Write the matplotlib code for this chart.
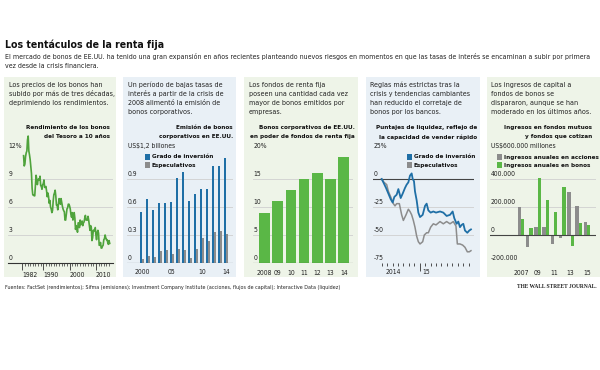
import numpy as np
import matplotlib
matplotlib.use('Agg')
import matplotlib.pyplot as plt
from matplotlib.patches import Rectangle

# ---- data ----
# 10-year Treasury yield, quarterly from mid-1982 (%)
yield_start = 1982.5
yield_10y = [11.5, 10.4, 10.6, 11.4, 11.8, 12.0, 13.2, 13.6, 12.0, 11.6, 11.1, 10.4,
             9.6, 8.0, 7.3, 7.3, 7.2, 7.2, 8.3, 9.4, 9.0, 8.4, 8.9, 9.0, 8.9, 9.3,
             8.3, 8.2, 7.9, 8.4, 8.5, 8.9, 8.1, 8.1, 8.2, 7.7, 7.1, 7.5, 7.1, 6.4,
             6.7, 6.0, 5.8, 5.4, 5.6, 6.6, 7.3, 7.5, 7.8, 7.2, 6.2, 6.2, 5.7, 6.3,
             6.9, 6.7, 6.3, 6.9, 6.5, 6.1, 5.8, 5.6, 5.5, 4.6, 4.6, 5.2, 5.8, 5.9,
             6.3, 6.3, 6.1, 5.8, 5.2, 4.9, 5.4, 4.6, 5.1, 5.4, 4.8, 3.6, 4.0, 3.8,
             3.3, 4.3, 4.3, 3.8, 4.6, 4.1, 4.2, 4.5, 4.0, 4.3, 4.4, 4.8, 5.1, 4.6,
             4.6, 4.6, 5.0, 4.6, 4.0, 3.5, 4.0, 3.8, 2.4, 2.7, 3.5, 3.4, 3.6, 3.8,
             3.0, 2.5, 3.3, 3.5, 3.2, 1.9, 1.9, 2.2, 1.6, 1.6, 1.8, 1.9, 2.5, 2.6,
             3.0, 2.7, 2.5, 2.5, 2.2, 2.0, 2.4, 2.1]

# corporate bond issuance (US$ trillions)
issue_years = list(range(2000, 2015))
issue_invest = [0.55, 0.69, 0.57, 0.64, 0.64, 0.65, 0.91, 0.98, 0.66, 0.74, 0.79, 0.79, 1.04, 1.04, 1.13]
issue_spec = [0.04, 0.08, 0.06, 0.13, 0.14, 0.10, 0.15, 0.14, 0.05, 0.15, 0.27, 0.24, 0.33, 0.34, 0.31]
issue_labels = ['2000', '05', '10', '14']

# share of US corporate bonds held by bond funds (%)
fund_years = list(range(2008, 2015))
fund_share = [9, 11, 13, 15, 16, 15, 19]
fund_labels = ['2008', '09', '10', '11', '12', '13', '14']

# liquidity scores (%), x = months since June 2014
liq_inv_x = [0.0, 0.31, 0.80, 1.23, 1.66, 2.02, 2.33, 2.76, 3.07, 3.50, 3.87, 4.29, 4.60, 4.91,
             5.21, 5.52, 5.71, 5.95, 6.13, 6.44, 6.75, 7.06, 7.55, 7.98, 8.28, 8.59, 9.02,
             9.51, 10.0, 10.74, 11.35, 11.96, 12.58, 13.07, 13.37, 13.80, 14.11, 14.42,
             14.72, 15.03, 15.34, 15.77, 16.13, 16.44]
liq_inv = [0, -3, -8, -13, -18, -21, -16, -14, -9, -17, -13, -8, -5, -3, 3, 5, 0, -2, -11,
           -19, -30, -34, -32, -24, -22, -28, -30, -29, -30, -29, -30, -33, -32, -29, -35,
           -40, -38, -43, -41, -40, -46, -48, -46, -45]
liq_spec_x = [0.0, 0.43, 0.92, 1.23, 1.66, 2.15, 2.45, 2.76, 3.25, 3.68, 3.99, 4.48, 4.91,
              5.21, 5.52, 5.83, 6.13, 6.44, 6.75, 7.06, 7.55, 7.85, 8.28, 8.59, 9.02, 9.51,
              10.0, 10.74, 11.35, 11.96, 12.58, 13.19, 13.68, 13.93, 14.42, 14.91, 15.34,
              15.77, 16.13, 16.44]
liq_spec = [0, -3, -5, -11, -16, -22, -24, -22, -22, -32, -37, -32, -27, -29, -32, -37, -43,
            -51, -56, -58, -56, -50, -48, -48, -43, -40, -41, -38, -40, -38, -40, -38, -42,
            -58, -58, -59, -61, -65, -65, -64]

# annual flows into mutual funds and ETFs (US$ millions)
flow_years = list(range(2007, 2016))
flow_stocks = [200000, -85000, 60000, 60000, -65000, -20000, 310000, 205000, 90000]
flow_bonds = [115000, 50000, 410000, 250000, 165000, 345000, -75000, 85000, 70000]
flow_labels = ['2007', '09', '11', '13', '15']

BLUE = '#1f6fa6'
GRAY = '#8c8c8c'
GREEN = '#5ab746'
LINE_GREEN = '#4fa33c'
GRID = '#cfcfcf'
TXT = '#222222'

W, H = 600, 370
plt.rcParams['font.family'] = ['DejaVu Sans']
plt.rcParams['font.stretch'] = 'condensed'
fig = plt.figure(figsize=(6, 3.7), dpi=100)

FS = 5.1      # body text
FK = 4.9      # tick labels
FT = 4.6      # chart titles / legend


def fx(px):
    return px / W


def fy(py):
    return 1 - py / H


def txt(x, y, s, size=FS, weight='normal', ha='left', color=TXT, family=None):
    kw = {}
    if family:
        kw['family'] = family
    fig.text(fx(x), fy(y), s, fontsize=size, fontweight=weight, ha=ha, va='center', color=color, **kw)


def make_ax(x0, x1, xlim, vlo, vhi, yhi, plo=263, phi=151):
    scale = (plo - phi) / (vhi - vlo)
    top = plo - (yhi - vlo) * scale
    ax = fig.add_axes([fx(x0), fy(plo), fx(x1) - fx(x0), (plo - top) / H])
    ax.set_xlim(*xlim)
    ax.set_ylim(vlo, yhi)
    ax.patch.set_visible(False)
    for s in ax.spines.values():
        s.set_visible(False)
    ax.set_yticks([])
    ax.tick_params(axis='x', labelsize=FK, colors=TXT, length=0, pad=4)
    return ax


def ylabels(ax, ticks, labels, dx=0.5, grid_ticks=None, dark=()):
    for v, lab in zip(ticks, labels):
        ax.annotate(lab, xy=(0, v), xycoords=('axes fraction', 'data'), xytext=(dx, 1.2),
                    textcoords='offset points', ha='left', va='bottom', fontsize=FK, color=TXT)
    for v in (grid_ticks if grid_ticks is not None else ticks):
        if v in dark:
            ax.axhline(v, color='#444444', lw=0.8, zorder=3)
        else:
            ax.axhline(v, color=GRID, lw=0.6, zorder=0)


# ---- panel backgrounds ----
panels = [(4, 116, '#eef4e8'), (123, 236, '#e9f0f6'), (244, 358, '#eef4e8'),
          (366, 480, '#e9f0f6'), (487, 600, '#eef4e8')]
for x0, x1, c in panels:
    fig.patches.append(Rectangle((fx(x0), fy(277)), fx(x1) - fx(x0), (277 - 77) / H,
                                 transform=fig.transFigure, facecolor=c, edgecolor='none', zorder=-5))

# ---- headline ----
txt(5, 45, 'Los tentáculos de la renta fija', size=7.6, weight='bold', color='#111111')
txt(5, 57, 'El mercado de bonos de EE.UU. ha tenido una gran expansión en años recientes planteando nuevos '
           'riesgos en momentos en que las tasas de interés se encaminan a subir por primera', size=5.0)
txt(5, 66, 'vez desde la crisis financiera.', size=5.0)

# ---- panel texts ----
intro = [
    (9, ['Los precios de los bonos han', 'subido por más de tres décadas,', 'deprimiendo los rendimientos.']),
    (128, ['Un período de bajas tasas de', 'interés a partir de la crisis de', '2008 alimentó la emisión de',
           'bonos corporativos.']),
    (249, ['Los fondos de renta fija', 'poseen una cantidad cada vez', 'mayor de bonos emitidos por', 'empresas.']),
    (370, ['Reglas más estrictas tras la', 'crisis y tendencias cambiantes', 'han reducido el corretaje de',
           'bonos por los bancos.']),
    (491, ['Los ingresos de capital a', 'fondos de bonos se', 'dispararon, aunque se han',
           'moderado en los últimos años.']),
]
for x, lines in intro:
    for i, s in enumerate(lines):
        txt(x, 84.5 + i * 9.3, s, size=FS)

titles = [
    (110, ['Rendimiento de los bonos', 'del Tesoro a 10 años']),
    (233, ['Emisión de bonos', 'corporativos en EE.UU.']),
    (355, ['Bonos corporativos de EE.UU.', 'en poder de fondos de renta fija']),
    (477, ['Puntajes de liquidez, reflejo de', 'la capacidad de vender rápido']),
    (592, ['Ingresos en fondos mutuos', 'y fondos que cotizan']),
]
for x, lines in titles:
    for i, s in enumerate(lines):
        txt(x, 127.5 + i * 9.3, s, size=FT, weight='bold', ha='right', color='#111111')

# ---- panel 1: treasury yield ----
ax1 = make_ax(8, 113, (1976.58, 2016.5), 0, 12, 15)
ylabels(ax1, [0, 3, 6, 9, 12], ['0', '3', '6', '9', '12%'], grid_ticks=[3, 6, 9])
yx = yield_start + 0.25 * np.arange(len(yield_10y))
ax1.plot(yx, yield_10y, color=LINE_GREEN, lw=1.2, zorder=4)
ax1.spines['bottom'].set_visible(True)
ax1.spines['bottom'].set_color('#333333')
ax1.spines['bottom'].set_linewidth(0.8)
ax1.set_xticks([1982, 1990, 2000, 2010], ['1982', '1990', '2000', '2010'])
ax1.set_xticks(range(1983, 2016), minor=True)
ax1.tick_params(axis='x', which='major', length=5, width=0.6, color='#333333', pad=1.5, direction='out')
ax1.tick_params(axis='x', which='minor', length=2.5, width=0.5, color='#333333', direction='out')
for lbl in ax1.get_xticklabels():
    lbl.set_ha('left')

# ---- panel 2: issuance ----
ax2 = make_ax(127, 233, (1997.5, 2015.17), 0, 1.2, 1.25)
ylabels(ax2, [0, 0.3, 0.6, 0.9, 1.2], ['0', '0.3', '0.6', '0.9', 'US$1,2 billones'],
        grid_ticks=[0.3, 0.6, 0.9])
ix = np.array(issue_years)
ax2.bar(ix - 0.2, issue_invest, width=0.4, color=BLUE, zorder=2)
ax2.bar(ix + 0.2, issue_spec, width=0.4, color=GRAY, zorder=2)
ax2.axhline(0, color='#444444', lw=0.8, zorder=3)
ax2.set_xticks([2000, 2005, 2010, 2014], issue_labels)

# ---- panel 3: fund share ----
ax3 = make_ax(253, 353, (2007.13, 2014.7), 0, 20, 20.5)
ylabels(ax3, [0, 5, 10, 15, 20], ['0', '5', '10', '15', '20%'], grid_ticks=[5, 10, 15])
ax3.bar(fund_years, fund_share, width=0.8, color=GREEN, zorder=2)
ax3.axhline(0, color='#444444', lw=0.8, zorder=3)
ax3.set_xticks(fund_years, fund_labels)
ax3.tick_params(axis='x', pad=5)

# ---- panel 4: liquidity ----
ax4 = make_ax(373, 474, (-1.6, 17.0), -75, 25, 27)
ylabels(ax4, [-75, -50, -25, 0, 25], ['-75', '-50', '-25', '0', '25%'], grid_ticks=[-75, -50, -25, 0], dark=(0,))
ax4.plot(liq_spec_x, liq_spec, color=GRAY, lw=1.1, zorder=4)
ax4.plot(liq_inv_x, liq_inv, color=BLUE, lw=1.3, zorder=5)
ax4.set_xticks([7], [''])
ax4.set_xticks(range(0, 17), minor=True)
ax4.tick_params(axis='x', which='major', length=6, width=0.6, color='#333333', direction='out')
ax4.tick_params(axis='x', which='minor', length=2.5, width=0.6, color='#333333', direction='out')
ax4.annotate('2014', xy=(2.1, 0), xycoords=('data', 'axes fraction'), xytext=(0, -4.5),
             textcoords='offset points', ha='center', va='top', fontsize=FK, color=TXT)
ax4.annotate('15', xy=(7.2, 0), xycoords=('data', 'axes fraction'), xytext=(1, -4.5),
             textcoords='offset points', ha='left', va='top', fontsize=FK, color=TXT)

# ---- panel 5: fund flows ----
ax5 = make_ax(490, 596, (2003.24, 2016.09), -200000, 600000, 620000)
ylabels(ax5, [-200000, 0, 200000, 400000, 600000],
        ['-200.000', '0', '200.000', '400.000', 'US$600.000 millones'],
        grid_ticks=[-200000, 0, 200000, 400000], dark=(0,))
fx5 = np.array(flow_years)
ax5.bar(fx5 - 0.21, flow_stocks, width=0.42, color=GRAY, zorder=2)
ax5.bar(fx5 + 0.21, flow_bonds, width=0.42, color=GREEN, zorder=2)
ax5.set_xticks([2007, 2009, 2011, 2013, 2015], flow_labels)
ax5.tick_params(axis='x', pad=5)

# ---- legends ----
legends = [
    (145, [(BLUE, 'Grado de inversión'), (GRAY, 'Especulativos')]),
    (407, [(BLUE, 'Grado de inversión'), (GRAY, 'Especulativos')]),
    (497, [(GRAY, 'Ingresos anuales en acciones'), (GREEN, 'Ingresos anuales en bonos')]),
]
for x, items in legends:
    for i, (c, lab) in enumerate(items):
        y = 157 + i * 8.3
        fig.patches.append(Rectangle((fx(x), fy(y + 3)), 5 / W, 6 / H, transform=fig.transFigure,
                                     facecolor=c, edgecolor='none'))
        txt(x + 7, y, lab, size=FT, weight='bold', color='#111111')

# ---- footer ----
txt(5, 287, 'Fuentes: FactSet (rendimientos); Sifma (emisiones); Investment Company Institute '
            '(acciones, flujos de capital); Interactive Data (liquidez)', size=3.9)
txt(597, 287, 'THE WALL STREET JOURNAL.', size=4.0, weight='bold', ha='right',
    family=['Liberation Serif', 'DejaVu Serif'])

fig.savefig('out.png', dpi=100, facecolor='white')
